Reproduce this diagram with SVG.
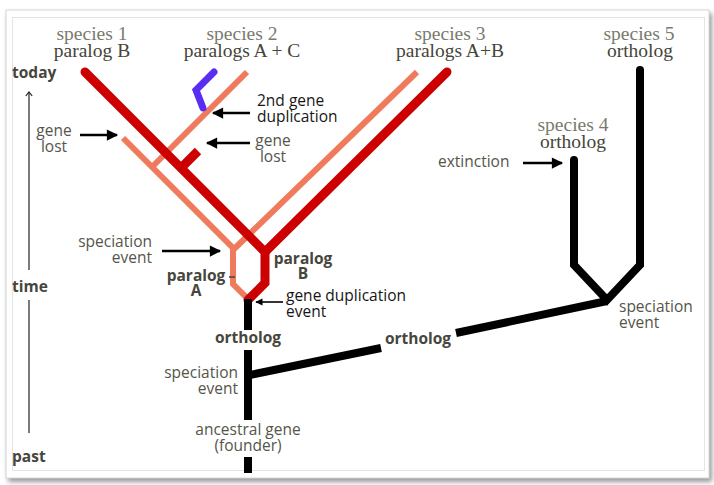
<svg xmlns="http://www.w3.org/2000/svg" width="714" height="485" viewBox="0 0 714 485">
<defs>
<style>
.serif{font-family:"Liberation Serif","Times New Roman",serif;font-size:19.5px;text-anchor:middle}
.sp{fill:#7a7a6c}
.pl{fill:#45453a}
.sans{font-family:"Open Sans",Lato,sans-serif;font-size:15.5px;fill:#55554a}
.dark{fill:#161616}
.bold{font-family:"Open Sans",Lato,sans-serif;font-size:15.5px;font-weight:bold;fill:#46463c}
.red{stroke:#cc0000;stroke-width:9;fill:none;stroke-linejoin:miter}
.salmon{stroke:#f07a5c;stroke-width:6;fill:none}
.blk{stroke:#000;stroke-width:8;fill:none}
.arrow{stroke:#000;stroke-width:2.5;fill:none;marker-end:url(#ah)}
</style>
<marker id="ah" viewBox="0 0 10 10" refX="9" refY="5" markerWidth="5" markerHeight="4.5" orient="auto"><path d="M0,0 L10,5 L0,10 Z" fill="#000"/></marker>
<marker id="open" viewBox="0 0 10 10" refX="5" refY="1" markerWidth="8" markerHeight="8" markerUnits="userSpaceOnUse" orient="0"><path d="M1,6 L5,1 L9,6" stroke="#222" stroke-width="1.5" fill="none"/></marker>
<filter id="sh" x="-5%" y="-5%" width="110%" height="110%"><feGaussianBlur stdDeviation="2.5"/></filter>
</defs>
<rect width="714" height="485" fill="#fff"/>
<g id="frame">
<rect x="8" y="13" width="704" height="469" fill="#9a9a9a" filter="url(#sh)"/>
<rect x="6" y="10" width="703" height="468" fill="#fff" stroke="#d6d6d6" stroke-width="1"/>
<rect x="12.5" y="17.5" width="692" height="453" fill="#fff" stroke="#e4e4e4" stroke-width="1"/>
</g>
<g id="connectors">
<path class="salmon" d="M123,138 L233,248 L233,284 L248,299"/>
<path class="salmon" d="M417,72 L233,250"/>
<path class="salmon" d="M247,72 L152,167"/>
<path d="M203,108 L196,90 L214,72" stroke="#5a2ef2" stroke-width="7" fill="none" stroke-linecap="round"/>
<path class="red" d="M85,72 L265,252 L265,283 L248,300" stroke-linecap="round"/>
<path class="red" d="M447,72 L265,252" stroke-linecap="round"/>
<path class="red" d="M181,168 L198,151" stroke-width="8"/>
<path class="blk" d="M248,299 L248,330"/>
<path class="blk" d="M248,350 L248,420"/>
<path class="blk" d="M248,457 L248,473"/>
<path class="blk" d="M250,375 L381,348"/>
<path class="blk" d="M456,333 L607,301"/>
<path class="blk" d="M574,160 L574,265 L607,300 L640,265 L640,70" stroke-linecap="round"/>
<line x1="29" y1="270" x2="29" y2="92" stroke="#222" stroke-width="1.2" marker-end="url(#open)"/>
<line x1="29" y1="300" x2="29" y2="433" stroke="#222" stroke-width="1.2"/>
<line class="arrow" x1="80" y1="135" x2="117" y2="135"/>
<line class="arrow" x1="250" y1="113" x2="213" y2="113"/>
<line class="arrow" x1="250" y1="143" x2="207" y2="143"/>
<line class="arrow" x1="523" y1="163" x2="562" y2="163"/>
<line class="arrow" x1="162" y1="251" x2="220" y2="251"/>
<line x1="283" y1="302" x2="256" y2="302" stroke="#000" stroke-width="1.6" marker-end="url(#ah)"/>
<line x1="229" y1="277" x2="235" y2="277" stroke="#46463c" stroke-width="1.5"/>
</g>
<g id="species1"><text class="serif sp" x="92" y="40">species 1</text><text class="serif pl" x="92" y="57">paralog B</text></g>
<g id="species2"><text class="serif sp" x="242" y="40">species 2</text><text class="serif pl" x="242" y="57">paralogs A + C</text></g>
<g id="species3"><text class="serif sp" x="450" y="40">species 3</text><text class="serif pl" x="450" y="57">paralogs A+B</text></g>
<g id="species5"><text class="serif sp" x="639" y="40">species 5</text><text class="serif pl" x="640" y="57">ortholog</text></g>
<g id="species4"><text class="serif sp" x="573" y="131">species 4</text><text class="serif pl" x="573" y="148">ortholog</text></g>
<g id="axis"><text class="bold" x="12" y="78">today</text><text class="bold" x="12" y="292">time</text><text class="bold" x="12" y="462">past</text></g>
<g id="gene-lost-1"><text class="sans" x="54" y="136" text-anchor="middle">gene</text><text class="sans" x="54" y="152" text-anchor="middle">lost</text></g>
<g id="dup2"><text class="sans dark" x="257" y="106">2nd gene</text><text class="sans dark" x="257" y="122">duplication</text></g>
<g id="gene-lost-2"><text class="sans" x="273" y="146" text-anchor="middle">gene</text><text class="sans" x="273" y="162" text-anchor="middle">lost</text></g>
<g id="extinction"><text class="sans" x="438" y="167">extinction</text></g>
<g id="speciation1"><text class="sans" x="152" y="247" text-anchor="end">speciation</text><text class="sans" x="152" y="263" text-anchor="end">event</text></g>
<g id="paralogA"><text class="bold" x="196" y="281" text-anchor="middle">paralog</text><text class="bold" x="196" y="296" text-anchor="middle">A</text></g>
<g id="paralogB"><text class="bold" x="303" y="264" text-anchor="middle">paralog</text><text class="bold" x="303" y="279" text-anchor="middle">B</text></g>
<g id="dup1"><text class="sans dark" x="286" y="301">gene duplication</text><text class="sans dark" x="286" y="317">event</text></g>
<g id="ortholog1"><text class="bold" x="248" y="343" text-anchor="middle">ortholog</text></g>
<g id="ortholog2"><text class="bold" x="418" y="344" text-anchor="middle">ortholog</text></g>
<g id="speciation2"><text class="sans" x="238" y="378" text-anchor="end">speciation</text><text class="sans" x="238" y="394" text-anchor="end">event</text></g>
<g id="founder"><text class="sans" x="248" y="435" text-anchor="middle">ancestral gene</text><text class="sans" x="248" y="451" text-anchor="middle">(founder)</text></g>
<g id="speciation3"><text class="sans" x="619" y="312">speciation</text><text class="sans" x="619" y="328">event</text></g>
</svg>
